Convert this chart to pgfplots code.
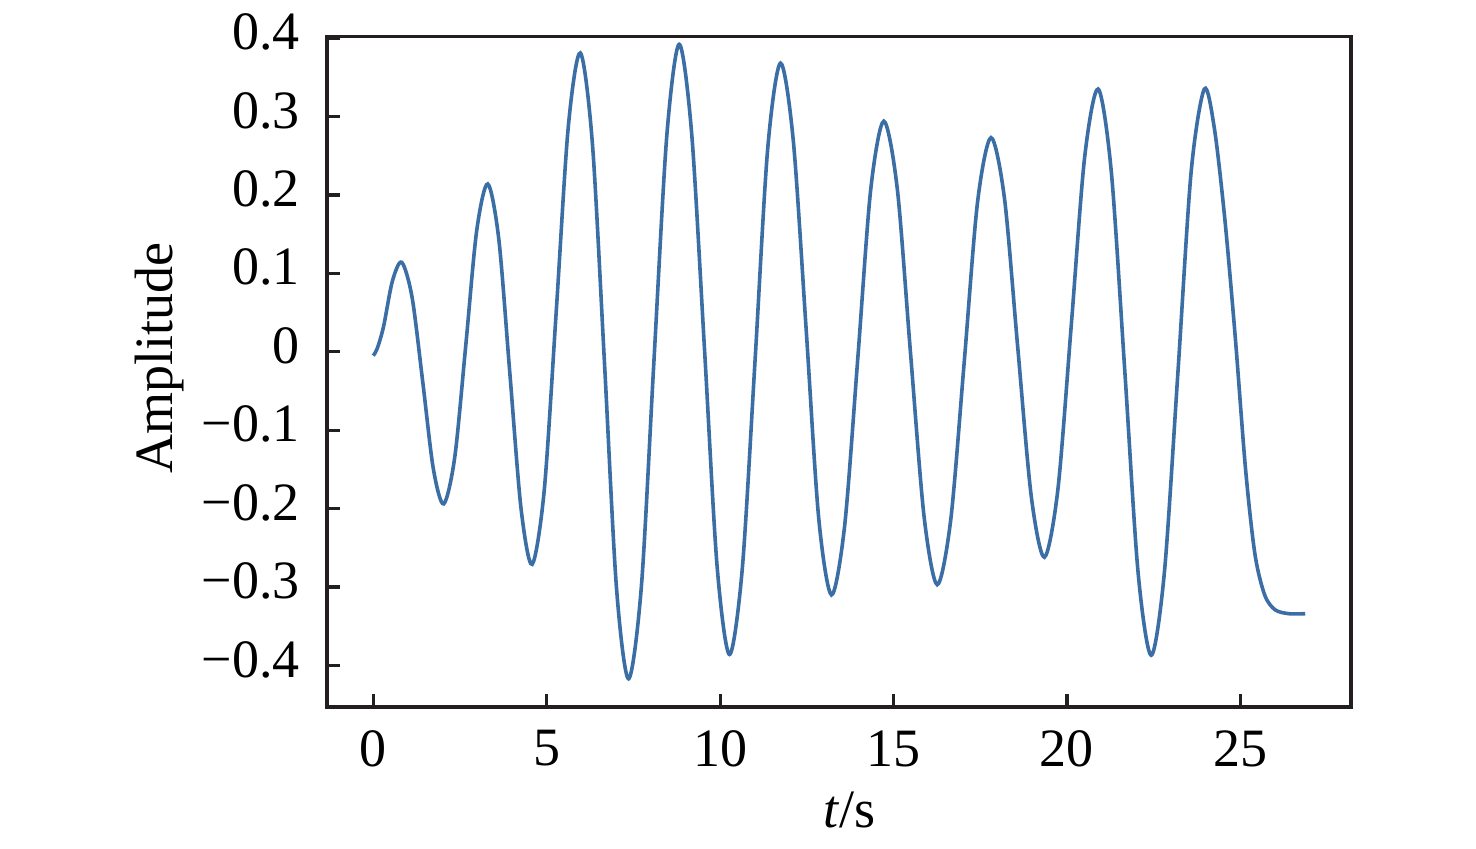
\documentclass[border=0pt]{standalone}
\usepackage{fontspec}
\setmainfont{Liberation Serif}
\usepackage{pgfplots}
\usepackage{pgfplotstable}
\pgfplotsset{compat=1.18}

\definecolor{curve}{RGB}{59,110,165}
\definecolor{frame}{RGB}{35,31,32}

% values: time in s, amplitude
\pgfplotstableread{
t v
0.00 -0.005
0.12 0.005
0.30 0.033
0.55 0.090
0.82 0.114
1.12 0.069
1.43 -0.040
1.73 -0.149
2.03 -0.194
2.35 -0.134
2.67 0.010
2.98 0.154
3.30 0.214
3.62 0.143
3.94 -0.029
4.26 -0.200
4.58 -0.271
4.93 -0.176
5.28 0.055
5.62 0.286
5.97 0.381
6.32 0.264
6.67 -0.018
7.01 -0.300
7.36 -0.417
7.73 -0.299
8.09 -0.013
8.46 0.274
8.82 0.392
9.18 0.278
9.55 0.003
9.91 -0.272
10.27 -0.386
10.64 -0.276
11.01 -0.009
11.37 0.258
11.74 0.368
12.11 0.269
12.48 0.029
12.84 -0.211
13.21 -0.310
13.59 -0.222
13.97 -0.008
14.34 0.206
14.72 0.294
15.11 0.207
15.49 -0.002
15.88 -0.210
16.26 -0.297
16.65 -0.214
17.04 -0.012
17.42 0.190
17.81 0.273
18.20 0.195
18.58 0.006
18.97 -0.184
19.35 -0.262
19.74 -0.175
20.13 0.037
20.51 0.248
20.90 0.335
21.28 0.229
21.67 -0.026
22.05 -0.281
22.43 -0.387
22.81 -0.281
23.20 -0.026
23.58 0.229
23.96 0.335
24.25 0.285
24.55 0.170
24.85 0.020
25.15 -0.150
25.42 -0.258
25.70 -0.310
26.00 -0.329
26.40 -0.334
26.87 -0.334
}\signal

\begin{document}
\begin{tikzpicture}[font=\fontsize{27pt}{32pt}\selectfont]
\path[use as bounding box] (-163.5pt,-70.5pt) rectangle (574.5pt,353.5pt);
\begin{axis}[
  at={(0pt,0pt)}, anchor=south west,
  scale only axis,
  width=512pt, height=335.25pt,
  xmin=-1.335, xmax=28.19,
  ymin=-0.453, ymax=0.402,
  xtick={0,5,10,15,20,25},
  ytick={-0.4,-0.3,-0.2,-0.1,0,0.1,0.2,0.3,0.4},
  yticklabels={−0.4,−0.3,−0.2,−0.1,0,0.1,0.2,0.3,0.4},
  xticklabels={0,5,10,15,20,25},
  xtick pos=left, ytick pos=left,
  tick align=inside,
  major tick length=6.5pt,
  axis line style={line width=1.6pt, frame},
  every tick/.style={line width=1.6pt, frame},
  xticklabel style={anchor=north, inner sep=0pt, yshift=-11.5pt},
  yticklabel style={anchor=east, inner sep=0pt, xshift=-13.5pt, yshift=3pt},
  xlabel={\textit{t}/s},
  ylabel={Amplitude},
  xlabel style={at={(axis description cs:0.51,-0.179)}, anchor=base, inner sep=0pt},
  ylabel style={at={(axis description cs:-0.151,0.52)}, anchor=base, inner sep=0pt},
]
\addplot[curve, line width=1.8pt, smooth, no marks] table[x=t, y=v] {\signal};
\end{axis}
\end{tikzpicture}
\end{document}
